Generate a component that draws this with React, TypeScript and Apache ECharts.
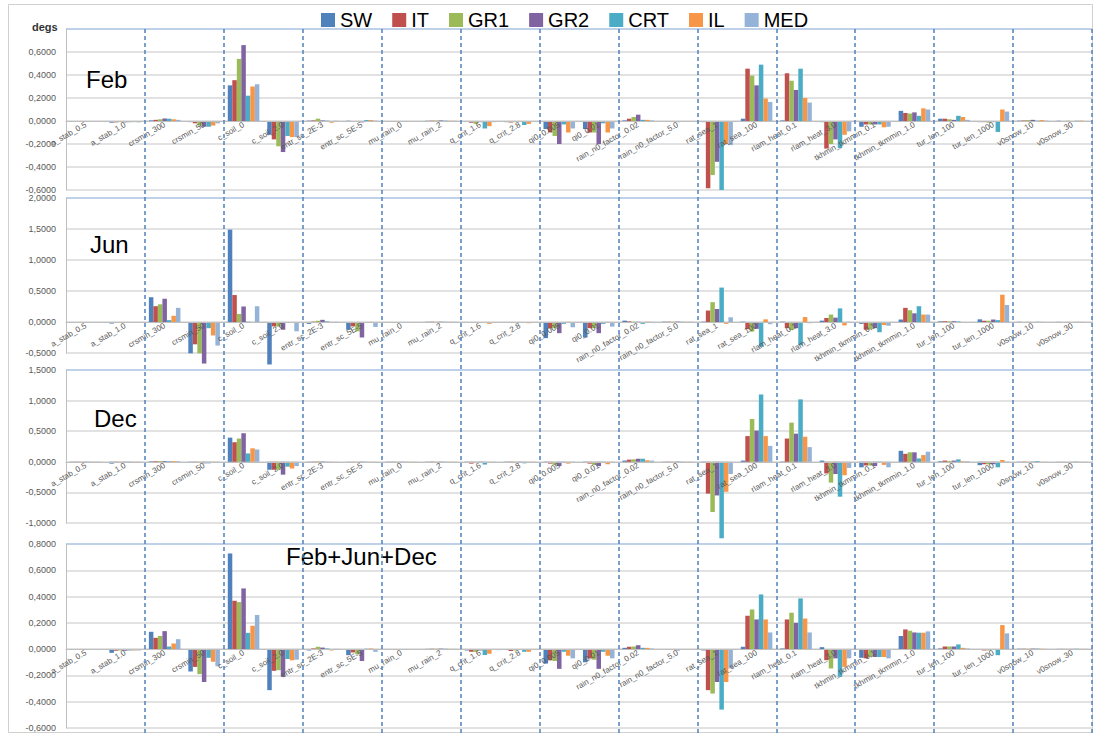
import React, { useEffect, useRef } from 'react';
import * as echarts from 'echarts';

const categories = [
  'a_stab_0.5', 'a_stab_1.0', 'crsmin_300', 'crsmin_50', 'c_soil_0', 'c_soil_2.0',
  'entr_sc_2E-3', 'entr_sc_5E-5', 'mu_rain_0', 'mu_rain_2', 'q_crit_1.6', 'q_crit_2.8',
  'qi0_0.005', 'qi0_0.01', 'rain_n0_factor_0.02', 'rain_n0_factor_5.0', 'rat_sea_1',
  'rat_sea_100', 'rlam_heat_0.1', 'rlam_heat_3.0', 'tkhmin_tkmmin_0.1', 'tkhmin_tkmmin_1.0',
  'tur_len_100', 'tur_len_1000', 'v0snow_10', 'v0snow_30',
];
const seriesNames = ['SW', 'IT', 'GR1', 'GR2', 'CRT', 'IL', 'MED'];
const seriesColors = ['#4F81BD', '#C0504D', '#9BBB59', '#8064A2', '#4BACC6', '#F79646', '#95B3D7'];

// Feb
const febSW = [-0.004, -0.015, 0.005, -0.01, 0.31, -0.12, 0.003, 0.002, -0.005, 0.002, -0.008, -0.01, -0.07, -0.07, 0.005, -0.004, -0.01, 0.02, 0.005, -0.01, -0.05, 0.088, 0.02, -0.01, 0.003, 0.002];
const febIT = [-0.004, -0.012, 0.01, -0.02, 0.355, -0.16, 0.005, -0.003, -0.006, 0.003, -0.015, -0.012, -0.1, -0.1, 0.02, -0.005, -0.585, 0.455, 0.415, -0.24, -0.03, 0.07, 0.02, -0.01, 0.005, -0.002];
const febGR1 = [-0.003, -0.01, 0.015, -0.04, 0.54, -0.22, 0.02, -0.005, -0.005, 0.004, -0.025, -0.01, -0.13, -0.1, 0.035, -0.006, -0.47, 0.395, 0.35, -0.2, -0.03, 0.065, 0.015, -0.015, 0.008, 0.002];
const febGR2 = [-0.004, -0.012, 0.022, -0.05, 0.66, -0.27, 0.005, -0.012, -0.008, 0.005, -0.01, -0.005, -0.2, -0.2, 0.055, -0.01, -0.355, 0.31, 0.27, -0.16, -0.03, 0.075, 0.01, -0.01, 0.01, -0.002];
const febCRT = [-0.003, -0.01, 0.02, -0.05, 0.22, -0.13, 0.003, 0.008, -0.004, 0.003, -0.065, -0.035, -0.03, -0.02, 0.01, -0.004, -0.6, 0.49, 0.455, -0.235, -0.03, 0.045, 0.045, -0.095, 0.003, 0.002];
const febIL = [-0.004, -0.01, 0.015, -0.04, 0.3, -0.14, -0.015, 0.008, -0.005, 0.002, -0.045, -0.025, -0.1, -0.1, 0.01, -0.003, -0.2, 0.195, 0.2, -0.12, -0.055, 0.11, 0.035, 0.1, 0.008, 0.003];
const febMED = [-0.003, -0.012, 0.01, -0.02, 0.32, -0.14, 0.002, 0.003, -0.004, 0.002, -0.01, -0.005, -0.065, -0.065, 0.005, -0.003, -0.21, 0.165, 0.16, -0.09, -0.05, 0.1, 0.01, 0.082, 0.003, -0.002];

// Jun
const junSW = [-0.005, -0.025, 0.4, -0.505, 1.49, -0.685, -0.03, -0.125, -0.005, 0.003, -0.01, -0.006, -0.26, -0.25, 0.022, 0.005, 0.005, 0.005, 0.005, 0.022, -0.03, 0.04, 0.01, 0.043, 0.003, 0.002];
const junIT = [-0.005, -0.008, 0.255, -0.36, 0.435, -0.07, 0.005, -0.07, -0.006, 0.004, -0.01, -0.006, -0.1, -0.1, 0.01, 0.005, 0.185, -0.115, -0.1, 0.065, -0.125, 0.228, 0.012, 0.02, -0.003, -0.002];
const junGR1 = [-0.004, -0.006, 0.285, -0.505, 0.13, -0.075, 0.02, -0.15, -0.005, 0.003, -0.008, -0.005, -0.1, -0.1, 0.004, 0.004, 0.32, -0.155, -0.13, 0.12, -0.12, 0.19, 0.01, 0.02, 0.002, 0.002];
const junGR2 = [-0.005, -0.007, 0.375, -0.67, 0.25, -0.125, 0.035, -0.25, -0.006, 0.004, -0.008, -0.005, -0.18, -0.18, 0.003, 0.006, 0.21, -0.11, -0.1, 0.07, -0.1, 0.14, 0.012, 0.04, -0.003, -0.002];
const junCRT = [-0.004, -0.005, 0.03, -0.1, 0.005, -0.01, 0.01, -0.01, -0.004, 0.003, -0.006, -0.006, -0.03, -0.03, -0.03, 0.004, 0.555, -0.4, -0.375, 0.22, -0.165, 0.255, 0.008, 0.03, 0.003, 0.002];
const junIL = [-0.005, -0.005, 0.1, -0.217, -0.005, -0.005, 0.002, 0.002, -0.005, 0.002, -0.03, -0.02, 0.002, 0.002, 0.004, 0.003, -0.03, 0.043, 0.08, -0.055, -0.05, 0.12, -0.005, 0.44, 0.002, 0.002];
const junMED = [-0.004, -0.004, 0.228, -0.38, 0.255, -0.15, 0.003, -0.08, -0.004, 0.003, -0.005, -0.005, -0.085, -0.075, 0.002, 0.004, 0.076, -0.035, -0.02, 0.003, -0.06, 0.12, -0.004, 0.275, -0.003, -0.002];

// Dec
const decSW = [-0.006, -0.03, 0.008, -0.015, 0.395, -0.13, 0.003, 0.002, -0.004, 0.003, -0.008, -0.004, -0.02, -0.01, 0.02, 0.003, -0.02, 0.02, 0.005, 0.02, -0.09, 0.18, 0.01, -0.055, 0.003, 0.002];
const decIT = [-0.004, -0.02, 0.01, -0.02, 0.32, -0.13, 0.004, 0.002, -0.005, 0.004, -0.03, -0.02, -0.03, -0.03, 0.035, 0.004, -0.52, 0.42, 0.38, -0.19, -0.06, 0.13, 0.02, -0.04, 0.003, 0.002];
const decGR1 = [-0.004, -0.015, 0.012, -0.02, 0.38, -0.13, 0.008, 0.003, -0.004, 0.004, -0.015, -0.01, -0.05, -0.05, 0.04, 0.004, -0.82, 0.7, 0.64, -0.34, -0.06, 0.155, 0.015, -0.04, 0.003, 0.002];
const decGR2 = [-0.004, -0.015, 0.012, -0.025, 0.467, -0.21, 0.006, 0.004, -0.005, 0.004, -0.01, -0.006, -0.07, -0.07, 0.05, 0.005, -0.55, 0.51, 0.46, -0.2, -0.07, 0.155, 0.02, -0.04, 0.004, 0.002];
const decCRT = [-0.004, -0.015, 0.01, -0.025, 0.137, -0.08, 0.004, 0.003, -0.003, 0.003, -0.045, -0.025, -0.01, -0.01, 0.05, 0.004, -1.25, 1.1, 1.02, -0.57, -0.02, 0.055, 0.04, -0.09, 0.012, 0.005];
const decIL = [-0.004, -0.015, 0.012, -0.02, 0.22, -0.11, -0.004, 0.002, -0.004, 0.003, -0.015, -0.01, -0.03, -0.04, 0.025, 0.003, -0.49, 0.42, 0.41, -0.22, -0.05, 0.11, 0.01, 0.03, 0.003, 0.002];
const decMED = [-0.004, -0.012, 0.01, -0.015, 0.2, -0.07, 0.002, 0.002, -0.004, 0.003, -0.008, -0.004, -0.02, -0.02, 0.02, 0.003, -0.2, 0.26, 0.24, -0.1, -0.09, 0.165, 0.01, 0.005, 0.002, 0.002];

// Feb+Jun+Dec
const allSW = [-0.006, -0.028, 0.132, -0.17, 0.728, -0.312, -0.01, -0.046, -0.005, 0.002, -0.01, -0.005, -0.11, -0.1, 0.01, -0.004, -0.01, 0.018, 0.005, 0.015, -0.066, 0.1, 0.005, -0.005, 0.003, 0.002];
const allIT = [-0.005, -0.012, 0.086, -0.135, 0.368, -0.165, 0.005, -0.025, -0.006, 0.003, -0.02, -0.015, -0.085, -0.07, 0.018, -0.005, -0.312, 0.254, 0.226, -0.084, -0.07, 0.15, 0.02, -0.01, 0.003, 0.002];
const allGR1 = [-0.004, -0.01, 0.1, -0.19, 0.358, -0.16, 0.018, -0.04, -0.005, 0.003, -0.02, -0.01, -0.09, -0.08, 0.02, -0.005, -0.338, 0.302, 0.277, -0.147, -0.06, 0.14, 0.02, -0.01, 0.003, 0.002];
const allGR2 = [-0.005, -0.012, 0.137, -0.25, 0.462, -0.21, 0.012, -0.09, -0.006, 0.004, -0.01, -0.005, -0.15, -0.15, 0.03, -0.01, -0.25, 0.226, 0.2, -0.07, -0.06, 0.127, 0.02, -0.003, 0.004, 0.002];
const allCRT = [-0.004, -0.01, 0.02, -0.066, 0.124, -0.075, 0.005, 0.003, -0.004, 0.003, -0.045, -0.02, -0.02, -0.02, 0.01, -0.004, -0.46, 0.416, 0.386, -0.21, -0.06, 0.125, 0.036, -0.046, 0.004, 0.003];
const allIL = [-0.005, -0.01, 0.043, -0.096, 0.178, -0.085, -0.01, 0.005, -0.005, 0.002, -0.035, -0.02, -0.05, -0.05, 0.01, -0.003, -0.25, 0.226, 0.233, -0.135, -0.06, 0.125, 0.01, 0.183, 0.003, 0.002];
const allMED = [-0.004, -0.01, 0.076, -0.13, 0.259, -0.08, 0.002, -0.02, -0.004, 0.002, -0.005, -0.005, -0.07, -0.07, 0.005, -0.003, -0.147, 0.127, 0.127, -0.07, -0.07, 0.135, 0.005, 0.12, 0.002, 0.002];

const panelTitles = ['Feb', 'Jun', 'Dec', 'Feb+Jun+Dec'];
const panelValues = [
  [febSW, febIT, febGR1, febGR2, febCRT, febIL, febMED],
  [junSW, junIT, junGR1, junGR2, junCRT, junIL, junMED],
  [decSW, decIT, decGR1, decGR2, decCRT, decIL, decMED],
  [allSW, allIT, allGR1, allGR2, allCRT, allIL, allMED],
];
const axisMin = [-0.6, -0.5, -1.0, -0.6];
const axisMax = [0.8, 2.0, 1.5, 0.8];
const axisStep = [0.2, 0.5, 0.5, 0.2];
const hiddenTop = [true, false, false, false];

// layout (pixels)
const gridTops = [29, 198, 370, 544];
const gridHeights = [161, 155, 153, 184];
const titlePos = [[86, 67], [90, 232], [94, 406], [286, 544]];
const GRID_LEFT = 66;
const GRID_RIGHT = 2;

const FONT = 'Liberation Sans';
const GRAY = '#d9d9d9';
const BLUE_BORDER = '#a9c2e2';

const fmt = (v: number) => v.toFixed(4).replace('.', ',');

export default function App() {
  const ref = useRef<HTMLDivElement>(null);
  useEffect(() => {
    if (!ref.current) return;
    const chart = echarts.init(ref.current, undefined, { renderer: 'svg' });

    const grids: any[] = [];
    const xAxes: any[] = [];
    const yAxes: any[] = [];
    const series: any[] = [];

    panelTitles.forEach((_, p) => {
      grids.push({ left: GRID_LEFT, right: GRID_RIGHT, top: gridTops[p], height: gridHeights[p], containLabel: false });
      // place the category axis (line + labels) on the zero level of the value axis
      const zeroFromBottom = gridHeights[p] * (0 - axisMin[p]) / (axisMax[p] - axisMin[p]);
      xAxes.push({
        type: 'category', gridIndex: p, data: categories, z: 3, position: 'bottom',
        offset: -zeroFromBottom,
        axisLine: { show: true, onZero: false, lineStyle: { color: '#bfbfbf', width: 1 } },
        axisTick: { show: false },
        splitLine: { show: false },
        axisLabel: { interval: 0, rotate: 30, fontSize: 8, color: '#595959', margin: 3, fontFamily: FONT, hideOverlap: false },
      });
      const n = Math.round((axisMax[p] - axisMin[p]) / axisStep[p]) + 1;
      const colors = Array.from({ length: n }, (_, i) => (i === n - 1 ? BLUE_BORDER : GRAY));
      yAxes.push({
        type: 'value', gridIndex: p, min: axisMin[p], max: axisMax[p], interval: axisStep[p],
        axisLine: { show: true, lineStyle: { color: '#bfbfbf' } },
        axisTick: { show: false },
        splitLine: { show: true, lineStyle: { color: colors, width: 1.5 } },
        axisLabel: {
          fontSize: 9, color: '#595959', margin: 10, fontFamily: FONT,
          formatter: (v: number) => (hiddenTop[p] && v > axisMax[p] - axisStep[p] / 2 ? '' : fmt(v)),
        },
      });
      seriesNames.forEach((name, s) => {
        series.push({
          type: 'bar', name, xAxisIndex: p, yAxisIndex: p,
          data: panelValues[p][s],
          itemStyle: { color: seriesColors[s] },
          barGap: '0%', barCategoryGap: '20%', clip: false,
        });
      });
    });

    // overlay grid carrying the dashed separators every two categories
    grids.push({ left: GRID_LEFT, right: GRID_RIGHT, top: gridTops[0], bottom: 0, containLabel: false });
    xAxes.push({
      type: 'category', gridIndex: 4, data: categories, z: 10,
      axisLine: { show: false }, axisTick: { show: false }, axisLabel: { show: false },
      splitLine: {
        show: true,
        interval: (i: number) => i > 0 && i % 2 === 0,
        lineStyle: { color: '#4F81BD', width: 1.5, type: [4, 3] },
      },
    });
    yAxes.push({ type: 'value', gridIndex: 4, min: 0, max: 1, show: false });

    const option: any = {
      animation: false,
      textStyle: { fontFamily: FONT },
      legend: {
        data: seriesNames, left: 316, top: 5, icon: 'rect', itemWidth: 14, itemHeight: 14, itemGap: 20,
        textStyle: { fontSize: 20, color: '#000', fontFamily: FONT },
      },
      title: [
        ...panelTitles.map((t, p) => ({
          text: t, left: titlePos[p][0], top: titlePos[p][1], padding: 0,
          textStyle: { fontSize: 24, fontWeight: 'normal', color: '#000', fontFamily: FONT },
        })),
        { text: 'degs', left: 32, top: 21, padding: 0, textStyle: { fontSize: 11, fontWeight: 'bold', color: '#333', fontFamily: FONT } },
      ],
      grid: grids,
      xAxis: xAxes,
      yAxis: yAxes,
      series,
      graphic: [
        { type: 'rect', shape: { x: 8.5, y: 4.5, width: 1084, height: 728 }, style: { fill: 'none', stroke: '#d0d0d0', lineWidth: 1 }, silent: true },
      ],
    };
    chart.setOption(option);
    return () => chart.dispose();
  }, []);
  return <div ref={ref} style={{ position: 'fixed', left: 0, top: 0, width: 1094, height: 734, background: '#fff' }} />;
}
